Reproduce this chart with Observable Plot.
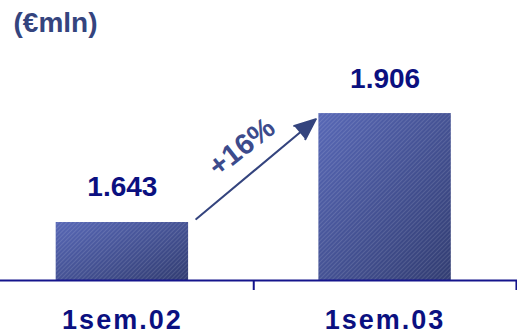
<!DOCTYPE html>
<html><head><meta charset="utf-8">
<script src="https://cdn.jsdelivr.net/npm/d3@7"></script>
<script src="https://cdn.jsdelivr.net/npm/@observablehq/plot@0.6"></script>
<style>
body{margin:0;background:#fff;}
.catlabel text{letter-spacing:2px;}
</style>
</head><body><div id="chart"></div>
<script>
const categories = ["1sem.02", "1sem.03"];
const values = [1.643, 1.906];
const valueLabels = ["1.643", "1.906"];
const growthLabel = "+16%";
const unitLabel = "(€mln)";
const yBase = 1.503;

const bars = categories.map((c, i) => ({i, cat: c, value: values[i], label: valueLabels[i]}));
const half = 0.252;
const font = "'Liberation Sans', Arial, sans-serif";
const navy = "#0b1080";
const slate = "#34447e";

const plot = Plot.plot({
  width: 517, height: 336,
  marginTop: 0, marginRight: 0, marginBottom: 56, marginLeft: 0,
  x: {type: "linear", domain: [-0.464, 1.504], axis: null},
  y: {domain: [yBase, 2.179], axis: null},
  style: {fontFamily: font, background: "white", overflow: "visible"},
  marks: [
    Plot.rectY(bars, {x1: d => d.i - half, x2: d => d.i + half, y1: yBase, y2: "value", fill: "url(#barGrad)"}),
    Plot.rectY(bars, {x1: d => d.i - half, x2: d => d.i + half, y1: yBase, y2: "value", fill: "url(#barHatch)"}),
    Plot.ruleY([yBase], {stroke: "#14148c", strokeWidth: 2}),
    Plot.ruleX(bars, {x: d => d.i + 0.5, y1: yBase, y2: yBase, insetBottom: -10, stroke: "#14148c", strokeWidth: 2}),
    Plot.text(bars, {x: "i", y: "value", text: "label", dy: -35, fontSize: 28, fontWeight: "bold", fill: navy}),
    Plot.text(bars, {x: "i", y: yBase, text: "cat", dy: 40, fontSize: 27, fontWeight: "bold", fill: navy, className: "catlabel"}),
    Plot.arrow([bars], {
      x1: d => d[0].i + half, y1: d => d[0].value,
      x2: d => d[1].i - half, y2: d => d[1].value,
      insetStart: 10, insetEnd: 4, dy: 3, bend: 0,
      stroke: slate, fill: slate, strokeWidth: 2, headLength: 17, headAngle: 45
    }),
    Plot.text([growthLabel], {
      x: (bars[0].i + bars[1].i) / 2, y: (values[0] + values[1]) / 2,
      text: d => d, rotate: -38, dx: -12, dy: -21,
      fontSize: 29, fontWeight: "bold", fill: "#3c4b8c"
    }),
    Plot.text([unitLabel], {
      frameAnchor: "top-left", text: d => d, textAnchor: "start", lineAnchor: "top",
      dx: 13, dy: 12, fontSize: 28, fontWeight: "bold", fill: slate
    })
  ]
});

const svg = d3.select(plot);
const defs = svg.insert("defs", ":first-child");
const g = defs.append("linearGradient").attr("id", "barGrad")
  .attr("x1", "0").attr("y1", "0").attr("x2", "1").attr("y2", "1");
g.append("stop").attr("offset", "0%").attr("stop-color", "#5868b6");
g.append("stop").attr("offset", "100%").attr("stop-color", "#323d72");
const p = defs.append("pattern").attr("id", "barHatch")
  .attr("patternUnits", "userSpaceOnUse").attr("width", 3).attr("height", 3)
  .attr("patternTransform", "rotate(45)");
p.append("rect").attr("x", 0).attr("y", 0).attr("width", 1).attr("height", 3)
  .attr("fill", "white").attr("fill-opacity", 0.12);

document.getElementById("chart").appendChild(plot);
</script>
</body></html>
